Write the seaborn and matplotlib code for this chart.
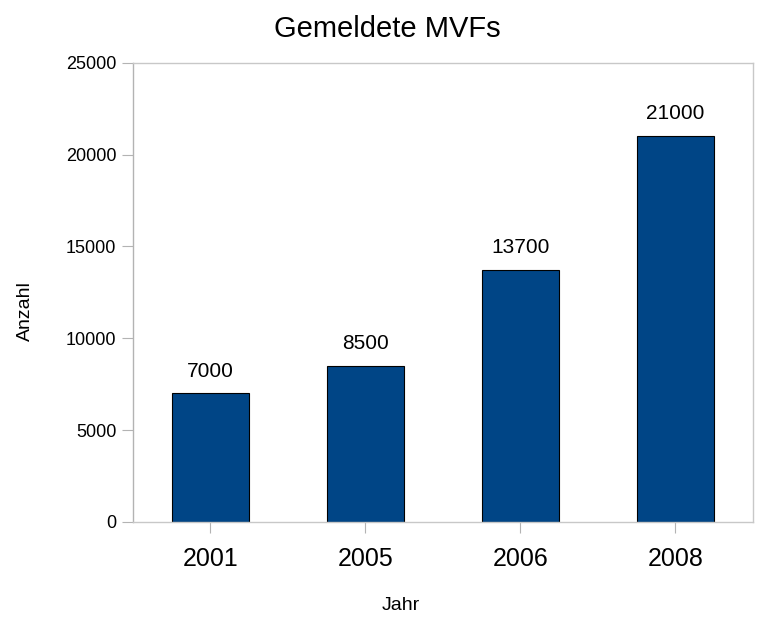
import pandas as pd
import seaborn as sns
import matplotlib.pyplot as plt

# Werte aus dem Diagramm
jahre = ["2001", "2005", "2006", "2008"]
anzahl = [7000, 8500, 13700, 21000]

df = pd.DataFrame({"Jahr": jahre, "Anzahl": anzahl})

sns.set_style("white")
plt.rcParams["font.family"] = ["Liberation Sans", "DejaVu Sans"]
plt.rcParams["text.color"] = "black"
plt.rcParams["xtick.labelcolor"] = "black"
plt.rcParams["ytick.labelcolor"] = "black"
plt.rcParams["axes.labelcolor"] = "black"

fig = plt.figure(figsize=(7.74, 6.17), dpi=100)
ax = fig.add_axes([0.1718, 0.154, 0.801, 0.7444])

sns.barplot(data=df, x="Jahr", y="Anzahl", color="#004586", saturation=1,
            width=0.5, edgecolor="black", linewidth=0.8, ax=ax)

# Beschriftung über den Balken
for i, v in enumerate(anzahl):
    ax.text(i, v + 700, str(v), ha="center", va="bottom", fontsize=15, color="black")

ax.set_ylim(0, 25000)
ax.set_xlim(-0.5, 3.5)
ax.set_yticks(range(0, 25001, 5000))

for side in ["top", "right", "bottom"]:
    ax.spines[side].set_color("#c8c8c8")
ax.spines["left"].set_color("#b3b3b3")
for s in ax.spines.values():
    s.set_linewidth(1)

ax.tick_params(axis="y", length=8, color="#b3b3b3", labelsize=13, pad=4, left=True)
ax.tick_params(axis="x", length=8, color="#b3b3b3", labelsize=18, pad=10, bottom=True)

fig.suptitle("Gemeldete MVFs", fontsize=21, x=0.5, y=0.975, va="top", color="black")
ax.set_xlabel("Jahr", fontsize=14)
ax.set_ylabel("Anzahl", fontsize=14)
ax.xaxis.set_label_coords(0.432, -0.163)
ax.yaxis.set_label_coords(-0.16, 0.459)

fig.savefig("out.png", dpi=100)
